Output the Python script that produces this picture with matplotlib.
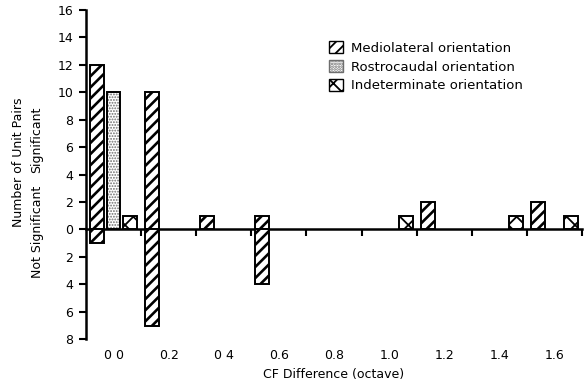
import numpy as np
import matplotlib
matplotlib.use('Agg')
import matplotlib.pyplot as plt
from matplotlib.ticker import FuncFormatter
from matplotlib.patches import Patch

# CF difference bins (octave)
bin_centers = [0.0, 0.2, 0.4, 0.6, 0.8, 1.0, 1.2, 1.4, 1.6]
bin_labels = ['0 0', '0.2', '0 4', '0.6', '0.8', '1.0', '1.2', '1.4', '1.6']

# number of unit pairs, significant (up) and not significant (down)
ml_sig = [12, 10, 1, 1, 0, 0, 2, 0, 2]
ml_not = [1, 7, 0, 4, 0, 0, 0, 0, 0]
rc_sig = [10, 0, 0, 0, 0, 0, 0, 0, 0]
ind_sig = [1, 0, 0, 0, 0, 1, 0, 1, 1]

plt.rcParams['font.family'] = 'DejaVu Sans'

fig = plt.figure(figsize=(5.86, 3.83), dpi=100)
ax = fig.add_axes([86/586, 1 - 339.3/383, 496/586, 329.5/383])

bw = 0.05
off = 0.06
x = np.array(bin_centers)

ML_HATCH, RC_HATCH, IND_HATCH = '///', '......', 'xx'


def draw_bars(xs, vals, hatch, sign=1, hlw=1.9):
    plt.rcParams['hatch.linewidth'] = hlw
    vals = np.array(vals)
    keep = vals != 0
    ax.bar(xs[keep], sign*vals[keep], width=bw, facecolor='white',
           edgecolor='black', linewidth=1.4, hatch=hatch, zorder=3)


draw_bars(x - off, ml_sig, ML_HATCH)
draw_bars(x - off, ml_not, ML_HATCH, sign=-1)

# stippled bars: gray dots first, black outline on top
plt.rcParams['hatch.linewidth'] = 0.9
rc = np.array(rc_sig)
k = rc != 0
ax.bar(x[k], rc[k], width=bw, facecolor='white', edgecolor='#6e6e6e',
       linewidth=0, hatch=RC_HATCH, zorder=3)
ax.bar(x[k], rc[k], width=bw, facecolor='none', edgecolor='black',
       linewidth=1.4, zorder=4)

draw_bars(x + off, ind_sig, IND_HATCH, hlw=1.3)

ax.set_xlim(-0.1, 1.7)
ax.set_ylim(-8, 16)

for s in ['top', 'right', 'bottom']:
    ax.spines[s].set_visible(False)
ax.spines['left'].set_linewidth(1.8)

ax.set_yticks(np.arange(-8, 17, 2))
ax.yaxis.set_major_formatter(FuncFormatter(lambda v, p: f'{abs(int(v))}'))
ax.tick_params(axis='y', direction='out', length=5, width=1.5, labelsize=9, pad=4)

ax.set_xticks(bin_centers)
ax.set_xticklabels(bin_labels)
ax.tick_params(axis='x', length=0, labelsize=9, pad=7)
ax.set_xlabel('CF Difference (octave)', fontsize=9, labelpad=4)

# zero line with bin boundary ticks
zero = ax.secondary_xaxis(8/24)
zero.set_xticks(np.arange(0.1, 1.71, 0.2))
zero.tick_params(direction='out', length=5, width=1.5, labelbottom=False)
zero.spines['bottom'].set_linewidth(1.8)

fig.text(19/586, 1 - 162/383, 'Number of Unit Pairs', rotation=90,
         ha='center', va='center', fontsize=9)
fig.text(37/586, 1 - 140/383, 'Significant', rotation=90,
         ha='center', va='center', fontsize=9)
fig.text(37/586, 1 - 232/383, 'Not Significant', rotation=90,
         ha='center', va='center', fontsize=9)

plt.rcParams['hatch.linewidth'] = 1.9
h_ml = Patch(facecolor='white', edgecolor='black', hatch=ML_HATCH)
plt.rcParams['hatch.linewidth'] = 0.9
h_rc = Patch(facecolor='white', edgecolor='#6e6e6e', hatch=RC_HATCH)
plt.rcParams['hatch.linewidth'] = 1.3
h_ind = Patch(facecolor='white', edgecolor='black', hatch=IND_HATCH)
ax.legend([h_ml, h_rc, h_ind],
          ['Mediolateral orientation', 'Rostrocaudal orientation',
           'Indeterminate orientation'],
          loc='upper left', bbox_to_anchor=(238/496, 1 - 26/329.5),
          frameon=False, fontsize=9.5, handlelength=1.05, handleheight=1.05,
          handletextpad=0.6, labelspacing=0.4, borderaxespad=0)

fig.savefig('out.png', dpi=100)
